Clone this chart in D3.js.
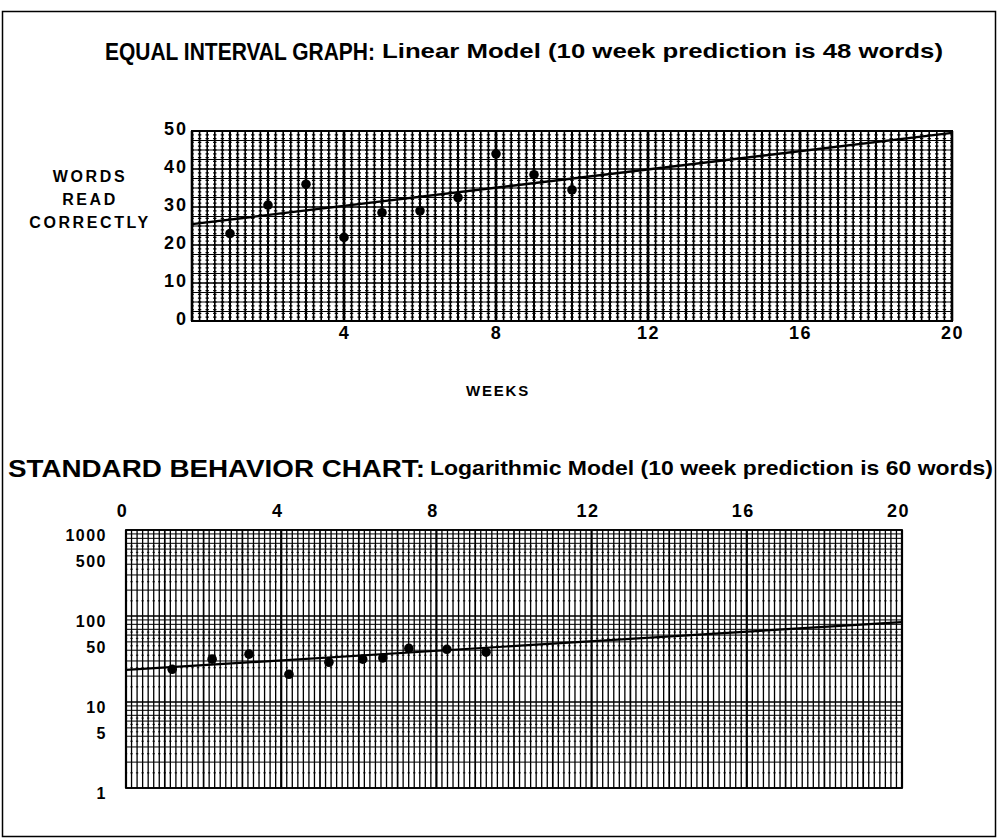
<!DOCTYPE html>
<html>
<head>
<meta charset="utf-8">
<script src="https://cdn.jsdelivr.net/npm/d3@7"></script>
<style>
  body { margin: 0; background: #fff; }
  svg { display: block; }
  .tick text { font-family: "Liberation Sans", Arial, sans-serif; font-weight: bold; fill: #000; }
</style>
</head>
<body>
<div id="chart"></div>
<script>
// ---- data ----
var weeksTop = [1, 2, 3, 4, 5, 6, 7, 8, 9, 10];
var wordsTop = [23, 30.5, 36, 22, 28.5, 29, 32.5, 44, 38.5, 34.5];
var linearFitWeeks = [0, 20];
var linearFitWords = [25.5, 49.5];
var yTicksTop = [0, 10, 20, 30, 40, 50];
var xTicksTop = [4, 8, 12, 16, 20];

var weeksLog = [1.19, 2.22, 3.17, 4.2, 5.23, 6.1, 6.62, 7.29, 8.27, 9.28];
var wordsLog = [24, 31.5, 36, 21, 29, 31.5, 32.5, 42, 41, 38];
var logFitWeeks = [0, 20];
var logFitWords = [23.6, 85];
var yTicksLog = [1, 5, 10, 50, 100, 500, 1000];
var xTicksLog = [0, 4, 8, 12, 16, 20];

var W = 1001, H = 840;
var svg = d3.select("#chart").append("svg").attr("width", W).attr("height", H);

// outer frame
svg.append("rect")
  .attr("x", 2.5).attr("y", 11.5).attr("width", 993).attr("height", 825)
  .attr("fill", "none").attr("stroke", "#000").attr("stroke-width", 1.5);

var narrow = "'Liberation Sans Narrow', 'Arial Narrow', 'Liberation Sans', Arial, sans-serif";
var wide = "'Liberation Sans', Arial, sans-serif";

// titles (widths forced to match the scan)
function title(x, y, size, len, txt) {
  svg.append("text").attr("x", x).attr("y", y)
    .attr("font-family", narrow).attr("font-weight", "bold").attr("font-size", size)
    .attr("textLength", len).attr("lengthAdjust", "spacingAndGlyphs")
    .text(txt);
}
title(105, 60, 23, 270, "EQUAL INTERVAL GRAPH:");
title(382, 58, 21, 561, "Linear Model (10 week prediction is 48 words)");
title(8, 477, 24, 417, "STANDARD BEHAVIOR CHART:");
title(430, 475, 21, 563, "Logarithmic Model (10 week prediction is 60 words)");

// ================= top: equal interval graph =================
var x1 = d3.scaleLinear().domain([0, 20]).range([192, 952]);
var y1 = d3.scaleLinear().domain([0, 50]).range([321, 131]);
var g1 = svg.append("g");

// little cross marks every unit (gives the dotted look of the paper)
g1.selectAll("line.dot").data(d3.range(0, 50.01, 1)).enter().append("line")
  .attr("x1", x1(0)).attr("x2", x1(20))
  .attr("y1", d => y1(d)).attr("y2", d => y1(d))
  .attr("stroke", "#000").attr("stroke-width", 1.3)
  .attr("stroke-dasharray", "3.4 " + (x1(0.2) - x1(0) - 3.4))
  .attr("stroke-dashoffset", 1.7);

// horizontal rules every 2.5 words
g1.selectAll("line.h").data(d3.range(0, 50.01, 2.5)).enter().append("line")
  .attr("x1", x1(0)).attr("x2", x1(20))
  .attr("y1", d => y1(d)).attr("y2", d => y1(d))
  .attr("stroke", "#000")
  .attr("stroke-width", d => d % 10 === 0 ? 1.5 : 1);

// vertical rules every 0.2 week
g1.selectAll("line.v").data(d3.range(0, 100.5, 1)).enter().append("line")
  .attr("x1", d => x1(d / 5)).attr("x2", d => x1(d / 5))
  .attr("y1", y1(0)).attr("y2", y1(50))
  .attr("stroke", "#000")
  .attr("stroke-width", d => d % 20 === 0 ? 2.6 : (d % 5 === 0 ? 2 : 1.6));

g1.append("rect")
  .attr("x", x1(0)).attr("y", y1(50))
  .attr("width", x1(20) - x1(0)).attr("height", y1(0) - y1(50))
  .attr("fill", "none").attr("stroke", "#000").attr("stroke-width", 2);

// trend line
g1.append("path")
  .datum(d3.zip(linearFitWeeks, linearFitWords))
  .attr("d", d3.line().x(d => x1(d[0])).y(d => y1(d[1])))
  .attr("fill", "none").attr("stroke", "#000").attr("stroke-width", 2.4);

// data points
g1.selectAll("circle").data(d3.zip(weeksTop, wordsTop)).enter().append("circle")
  .attr("cx", d => x1(d[0])).attr("cy", d => y1(d[1]))
  .attr("r", 4.8).attr("fill", "#000");

// axes
var ax1 = svg.append("g").attr("transform", "translate(" + x1(0) + ",0)")
  .call(d3.axisLeft(y1).tickValues(yTicksTop).tickSize(0).tickPadding(4));
ax1.select(".domain").remove();
ax1.selectAll("text").attr("font-size", 18).attr("letter-spacing", 2).attr("dy", "0.2em");

var bx1 = svg.append("g").attr("transform", "translate(0," + y1(0) + ")")
  .call(d3.axisBottom(x1).tickValues(xTicksTop).tickSize(0).tickPadding(5));
bx1.select(".domain").remove();
bx1.selectAll("text").attr("font-size", 18).attr("letter-spacing", 1.5);

// axis titles
var yLab = ["WORDS", "READ", "CORRECTLY"];
svg.selectAll("text.ylab").data(yLab).enter().append("text")
  .attr("x", 90).attr("y", (d, i) => 182 + i * 23)
  .attr("text-anchor", "middle")
  .attr("font-family", wide).attr("font-weight", "bold").attr("font-size", 16)
  .attr("letter-spacing", 2.6)
  .text(d => d);

svg.append("text").attr("x", 498).attr("y", 396)
  .attr("text-anchor", "middle")
  .attr("font-family", wide).attr("font-weight", "bold").attr("font-size", 15)
  .attr("letter-spacing", 1.8)
  .text("WEEKS");

// ================= bottom: standard behavior chart =================
var x2 = d3.scaleLinear().domain([0, 20]).range([126, 902]);
var y2 = d3.scaleLog().domain([1, 1000]).range([788, 530]);
var g2 = svg.append("g");

// horizontal rules at 1..9 of each decade
var logLines = [];
[1, 10, 100].forEach(function (dec) {
  for (var k = 1; k < 10; k++) logLines.push(dec * k);
});
logLines.push(1000);
// extra half steps low in each decade
var halfLines = [];
[1, 10, 100].forEach(function (dec) {
  [1.5, 2.5, 3.5, 4.5, 5.5, 6.5].forEach(function (k) { halfLines.push(dec * k); });
});

var dayW = (x2(1) - x2(0)) / 7;
g2.selectAll("line.hh").data(halfLines).enter().append("line")
  .attr("x1", x2(0)).attr("x2", x2(20))
  .attr("y1", d => y2(d)).attr("y2", d => y2(d))
  .attr("stroke", "#000").attr("stroke-width", 1)
  .attr("stroke-dasharray", "2.4 " + (dayW - 2.4))
  .attr("stroke-dashoffset", 1.2);

g2.selectAll("line.h").data(logLines).enter().append("line")
  .attr("x1", x2(0)).attr("x2", x2(20))
  .attr("y1", d => y2(d)).attr("y2", d => y2(d))
  .attr("stroke", "#000")
  .attr("stroke-width", d => [1, 10, 100, 1000].indexOf(d) >= 0 ? 1.6 : 1);

// vertical rules, one per day
g2.selectAll("line.v").data(d3.range(0, 140.5, 1)).enter().append("line")
  .attr("x1", d => x2(d / 7)).attr("x2", d => x2(d / 7))
  .attr("y1", y2(1)).attr("y2", y2(1000))
  .attr("stroke", "#000")
  .attr("stroke-width", d => d % 28 === 0 ? 2.2 : (d % 7 === 0 ? 1.7 : 1.3));

g2.append("rect")
  .attr("x", x2(0)).attr("y", y2(1000))
  .attr("width", x2(20) - x2(0)).attr("height", y2(1) - y2(1000))
  .attr("fill", "none").attr("stroke", "#000").attr("stroke-width", 1.8);

g2.append("path")
  .datum(d3.zip(logFitWeeks, logFitWords))
  .attr("d", d3.line().x(d => x2(d[0])).y(d => y2(d[1])))
  .attr("fill", "none").attr("stroke", "#000").attr("stroke-width", 2.2);

g2.selectAll("circle").data(d3.zip(weeksLog, wordsLog)).enter().append("circle")
  .attr("cx", d => x2(d[0])).attr("cy", d => y2(d[1]))
  .attr("r", 4.8).attr("fill", "#000");

var ax2 = svg.append("g").attr("transform", "translate(" + x2(0) + ",0)")
  .call(d3.axisLeft(y2).tickValues(yTicksLog).tickFormat(d3.format("d")).tickSize(0).tickPadding(19));
ax2.select(".domain").remove();
ax2.selectAll("text").attr("font-size", 16).attr("letter-spacing", 1.5).attr("dy", "0.65em");

var bx2 = svg.append("g").attr("transform", "translate(0," + y2(1000) + ")")
  .call(d3.axisTop(x2).tickValues(xTicksLog).tickSize(0).tickPadding(13));
bx2.select(".domain").remove();
bx2.selectAll("text").attr("font-size", 18).attr("font-family", narrow).attr("letter-spacing", 1.5)
  .attr("transform", "translate(-4,0)");
</script>
</body>
</html>
